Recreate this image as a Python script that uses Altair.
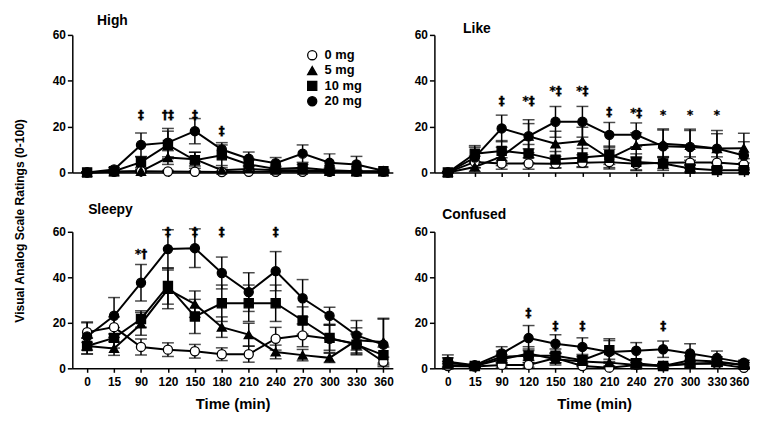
import altair as alt
import pandas as pd

FONT = "Liberation Sans"

times = [0, 15, 90, 120, 150, 180, 210, 240, 270, 300, 330, 360]
doses = ["0 mg", "5 mg", "10 mg", "20 mg"]

# ---- High ----
high_0 = [0, 0.3, 0.5, 0.4, 0.3, 0.2, 0.3, 0.3, 0.3, 0.3, 0.3, 0.3]
high_0_err = [0.3, 0.3, 0.5, 0.5, 0.4, 0.3, 0.4, 0.4, 0.4, 0.4, 0.3, 0.3]
high_5 = [0, 0.3, 0.5, 6.5, 5.8, 1.0, 1.5, 1.0, 1.0, 0.5, 0.3, 0.3]
high_5_err = [0, 0.3, 0.8, 3.0, 3.0, 1.0, 1.0, 0.8, 0.8, 0.5, 0.3, 0.3]
high_10 = [0, 0.5, 4.5, 12.0, 5.3, 7.5, 3.5, 1.5, 2.0, 1.0, 0.5, 0.5]
high_10_err = [0, 0.5, 2.5, 6.0, 3.5, 4.5, 2.5, 1.2, 1.5, 0.8, 0.5, 0.5]
high_20 = [0, 1.3, 12.0, 13.0, 18.0, 10.0, 6.0, 4.0, 8.2, 4.2, 3.5, 0.7]
high_20_err = [0, 0.8, 5.2, 6.2, 5.5, 3.0, 2.9, 2.5, 3.8, 3.9, 3.5, 0.6]
high_note_idx = [2, 3, 4, 5]
high_note_txt = ["‡", "†‡", "‡", "‡"]
high_note_y = [25.2, 25.2, 25.2, 18.1]

# ---- Like ----
like_0 = [0, 4.6, 3.9, 3.9, 3.8, 4.2, 4.5, 3.8, 4.2, 4.3, 4.3, 3.5]
like_0_err = [0.5, 2.5, 2.5, 2.5, 2.0, 2.0, 3.0, 3.0, 2.5, 2.5, 2.5, 2.5]
like_5 = [0, 2.4, 7.0, 15.8, 12.5, 13.7, 6.1, 11.8, 12.5, 11.8, 10.4, 10.6]
like_5_err = [0, 2.0, 4.0, 5.5, 5.5, 6.0, 4.0, 5.5, 6.0, 6.5, 6.5, 6.5]
like_10 = [0, 8.2, 9.4, 8.2, 5.6, 6.5, 7.5, 4.6, 3.9, 1.7, 1.0, 1.0]
like_10_err = [0, 3.5, 4.5, 4.0, 3.5, 4.0, 4.0, 3.5, 3.0, 1.5, 1.0, 1.0]
like_20 = [0, 6.5, 19.2, 15.8, 22.1, 22.1, 16.4, 16.4, 11.4, 11.1, 10.4, 7.4]
like_20_err = [0, 4.5, 5.8, 7.2, 6.7, 6.7, 5.4, 5.2, 7.6, 7.8, 7.9, 6.0]
like_note_idx = [2, 3, 4, 5, 6, 7, 8, 9, 10]
like_note_txt = ["‡", "*‡", "*‡", "*‡", "‡", "*‡", "*", "*", "*"]
like_note_y = [31.0, 31.0, 35.5, 35.5, 26.5, 26.0, 25.0, 25.0, 25.0]

# ---- Sleepy ----
sleepy_0 = [15.9, 18.1, 9.4, 8.2, 7.5, 6.2, 6.2, 13.0, 14.5, 13.0, 10.8, 2.9]
sleepy_0_err = [4.5, 4.5, 3.5, 3.0, 3.0, 2.8, 3.5, 5.0, 5.0, 6.0, 4.5, 2.0]
sleepy_5 = [9.8, 8.7, 19.5, 34.7, 28.2, 18.1, 14.8, 7.2, 5.8, 4.6, 12.3, 11.6]
sleepy_5_err = [3.5, 3.0, 5.0, 8.5, 5.8, 4.5, 5.0, 3.0, 2.5, 2.0, 5.5, 10.0]
sleepy_10 = [9.8, 13.4, 21.7, 36.2, 22.8, 28.6, 28.6, 28.6, 21.0, 13.4, 10.4, 5.8]
sleepy_10_err = [3.5, 4.5, 3.6, 8.0, 7.5, 8.0, 8.0, 8.0, 6.0, 5.5, 4.5, 3.5]
sleepy_20 = [14.0, 23.1, 37.6, 52.4, 52.8, 41.9, 33.5, 42.7, 30.8, 23.1, 14.5, 10.4]
sleepy_20_err = [6.0, 8.0, 8.0, 8.5, 8.5, 7.0, 8.5, 8.6, 8.2, 3.7, 6.5, 11.6]
sleepy_note_idx = [2, 3, 4, 5, 7]
sleepy_note_txt = ["*†", "‡", "‡", "‡", "‡"]
sleepy_note_y = [50.4, 59.7, 59.7, 59.7, 59.7]

# ---- Confused ----
conf_0 = [1.0, 0.8, 1.5, 1.5, 4.5, 1.0, 0.3, 1.5, 1.0, 2.0, 2.0, 0.2]
conf_0_err = [1.0, 0.5, 1.0, 1.0, 2.0, 1.0, 0.5, 1.0, 1.0, 1.0, 1.0, 0.3]
conf_5 = [1.5, 1.0, 4.0, 6.5, 4.0, 3.0, 2.5, 1.5, 1.2, 2.0, 2.5, 1.5]
conf_5_err = [1.5, 0.5, 2.0, 3.0, 2.5, 2.0, 1.5, 1.0, 1.0, 1.5, 1.5, 1.0]
conf_10 = [2.6, 1.0, 5.1, 5.5, 5.5, 3.6, 8.0, 2.2, 1.0, 3.5, 3.0, 1.5]
conf_10_err = [2.0, 0.5, 2.5, 3.0, 3.0, 2.5, 5.0, 1.5, 1.0, 2.0, 2.0, 1.0]
conf_20 = [2.9, 1.4, 6.5, 13.3, 10.8, 9.4, 7.2, 7.7, 8.4, 6.5, 4.6, 2.5]
conf_20_err = [3.0, 0.8, 3.0, 5.5, 4.0, 4.0, 5.0, 3.6, 3.6, 4.3, 3.0, 1.0]
conf_note_idx = [3, 4, 5, 8]
conf_note_txt = ["‡", "‡", "‡", "‡"]
conf_note_y = [24.4, 18.7, 18.7, 18.7]

label_expr = "[" + ",".join("'%d'" % t for t in times) + "][datum.value]"


def make_df(means, errs):
    rows = []
    for d, dose in enumerate(doses):
        for i, t in enumerate(times):
            m, e = means[d][i], errs[d][i]
            rows.append(dict(idx=i, time=t, dose=dose, order=d, value=m,
                             lo=max(m - e, 0), hi=m + e))
    return pd.DataFrame(rows)


def make_notes(idx, txt, yv):
    return pd.DataFrame(dict(idx=idx, label=txt, y=yv))


def panel(df, notes, title, dx, toff, xmin, xmax, width, height, bottom, legend,
          flush):
    xs = alt.Scale(domain=[xmin, xmax], nice=False, zero=False)
    ys = alt.Scale(domain=[0, 60], nice=False, zero=False)
    xax = alt.Axis(values=list(range(12)), labelExpr=label_expr, labels=bottom,
                   title="Time (min)" if bottom else None, tickSize=4,
                   labelPadding=4, titlePadding=10, labelFlush=flush,
                   labelFlushOffset=5, labelOverlap=False, grid=False)
    yax = alt.Axis(values=[0, 20, 40, 60], title=None, tickSize=5,
                   labelPadding=2, labelFlush=False, grid=False)

    def X(f):
        return alt.X(f, type="quantitative", scale=xs, axis=xax)

    def Y(f):
        return alt.Y(f, type="quantitative", scale=ys, axis=yax)

    base = alt.Chart(df)
    err = base.mark_errorbar(ticks=True, size=12, thickness=1.5, color="black").encode(
        x=X("idx"), y=Y("lo"), y2="hi", detail="dose:N")
    line = base.mark_line(color="black", strokeWidth=2).encode(
        x=X("idx"), y=Y("value"), detail="dose:N")
    if legend:
        leg = alt.Legend(title=None, orient="none", legendX=236, legendY=14,
                         labelFont=FONT, labelFontSize=13, labelFontWeight="bold",
                         labelColor="black", symbolSize=85,
                         symbolStrokeWidth=1.3, rowPadding=0.5, padding=0,
                         labelOffset=6, direction="vertical")
    else:
        leg = None
    pts = base.mark_point(filled=True, size=85, strokeWidth=1.3, opacity=1).encode(
        x=X("idx"), y=Y("value"),
        shape=alt.Shape("dose:N", scale=alt.Scale(domain=doses,
                        range=["circle", "triangle-up", "square", "circle"]),
                        legend=leg),
        fill=alt.Fill("dose:N", scale=alt.Scale(domain=doses,
                      range=["white", "black", "black", "black"]), legend=leg),
        stroke=alt.Stroke("dose:N", scale=alt.Scale(domain=doses,
                          range=["black", "black", "black", "black"]), legend=leg),
        order=alt.Order("order:Q"))
    txt = alt.Chart(notes).mark_text(font="DejaVu Sans", fontSize=12,
                                     fontWeight="bold", color="black",
                                     stroke="black", strokeWidth=0.35,
                                     baseline="middle").encode(
        x=X("idx"), y=Y("y"), text="label:N")
    return alt.layer(err, line, pts, txt).properties(
        width=width, height=height,
        title=alt.TitleParams(text=title, anchor="start", frame="group", dx=dx,
                              offset=toff, baseline="alphabetic", font=FONT,
                              fontSize=14, fontWeight="bold", color="black"))


high_df = make_df([high_0, high_5, high_10, high_20],
                  [high_0_err, high_5_err, high_10_err, high_20_err])
like_df = make_df([like_0, like_5, like_10, like_20],
                  [like_0_err, like_5_err, like_10_err, like_20_err])
sleepy_df = make_df([sleepy_0, sleepy_5, sleepy_10, sleepy_20],
                    [sleepy_0_err, sleepy_5_err, sleepy_10_err, sleepy_20_err])
conf_df = make_df([conf_0, conf_5, conf_10, conf_20],
                  [conf_0_err, conf_5_err, conf_10_err, conf_20_err])

LW, RW = 324, 323
p1 = panel(high_df, make_notes(high_note_idx, high_note_txt, high_note_y),
           "High", 25, -10, -0.55, 11.35, LW, 139, False, True, False)
p2 = panel(like_df, make_notes(like_note_idx, like_note_txt, like_note_y),
           "Like", 29, -18, -0.5, 11.375, RW, 139, False, False, 12)
p3 = panel(sleepy_df, make_notes(sleepy_note_idx, sleepy_note_txt, sleepy_note_y),
           "Sleepy", 16, -2, -0.55, 11.35, LW, 138, True, False, False)
p4 = panel(conf_df, make_notes(conf_note_idx, conf_note_txt, conf_note_y),
           "Confused", 8, -7, -0.5, 11.375, RW, 138, True, False, 12)

chart = alt.concat(p1, p2, p3, p4, columns=2,
                   spacing={"row": 60, "column": 42}, bounds="flush").resolve_scale(
    shape="independent", fill="independent", stroke="independent").resolve_legend(
    shape="independent", fill="independent", stroke="independent").properties(
    title=alt.TitleParams(text="Visual Analog Scale Ratings (0-100)", orient="left",
                          anchor="middle", font=FONT, fontSize=12.2,
                          fontWeight="bold", color="black", offset=26, dx=-8),
    autosize=alt.AutoSizeParams(type="none"),
    padding={"left": 65, "top": 25, "right": 685, "bottom": 385}
).configure_view(stroke=None).configure_axis(
    domainColor="black", domainWidth=1.5, tickColor="black", tickWidth=1.5,
    labelFont=FONT, labelFontSize=12, labelFontWeight="bold", labelColor="black",
    titleFont=FONT, titleFontSize=15, titleFontWeight="bold", titleColor="black")

chart.save("out.html", embed_options={"renderer": "svg", "actions": False})
